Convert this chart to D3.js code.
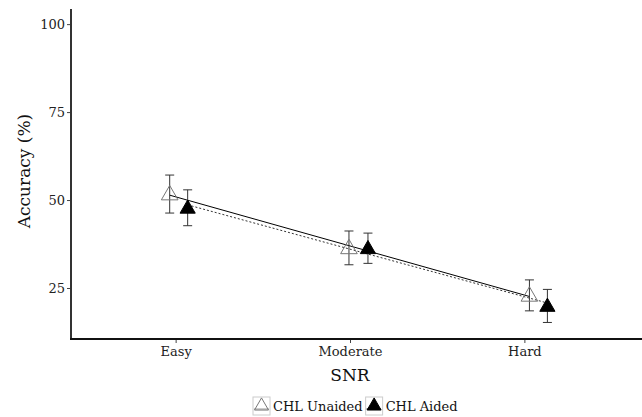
<!DOCTYPE html>
<html>
<head>
<meta charset="utf-8">
<script src="https://cdn.jsdelivr.net/npm/d3@7"></script>
<style>
  body { margin: 0; background: #fff; }
  text { font-family: "DejaVu Serif", "Liberation Serif", serif; }
</style>
</head>
<body>
<div id="chart"></div>
<script>
var categories = ["Easy", "Moderate", "Hard"];
var yTicks = [25, 50, 75, 100];

var seriesNames = ["CHL Unaided", "CHL Aided"];
var unaidedMean = [51.7, 36.4, 22.9];
var unaidedErr  = [5.4, 4.8, 4.4];
var aidedMean   = [47.8, 36.3, 19.9];
var aidedErr    = [5.1, 4.3, 4.7];
// horizontal jitter of each point, in category steps
var unaidedJitter = [-0.034, -0.006, 0.029];
var aidedJitter   = [0.069, 0.103, 0.132];

var width = 642, height = 417;

var svg = d3.select("#chart").append("svg")
    .attr("width", width)
    .attr("height", height);

var x = d3.scalePoint()
    .domain(categories)
    .range([71, 629])
    .padding(0.6);
var step = x.step();

var y = d3.scaleLinear()
    .domain([10.5, 104.3])
    .range([339, 9]);

var series = [
  {name: seriesNames[0], mean: unaidedMean, err: unaidedErr, jit: unaidedJitter, fill: "none", stroke: "#777", dash: null, lineColor: "#000"},
  {name: seriesNames[1], mean: aidedMean, err: aidedErr, jit: aidedJitter, fill: "#000", stroke: "#000", dash: "2,2", lineColor: "#333"}
];

series.forEach(function(s) {
  s.points = categories.map(function(c, i) {
    return {cat: c, i: i, px: x(c) + s.jit[i] * step, v: s.mean[i], e: s.err[i]};
  });
  // linear fit of value on position
  var mx = d3.mean(s.points, function(d) { return d.px; }),
      my = d3.mean(s.points, function(d) { return d.v; }),
      sxy = d3.sum(s.points, function(d) { return (d.px - mx) * (d.v - my); }),
      sxx = d3.sum(s.points, function(d) { return (d.px - mx) * (d.px - mx); });
  s.slope = sxy / sxx;
  s.icpt = my - s.slope * mx;
});

// axes
var yAxis = d3.axisLeft(y).tickValues(yTicks).tickSize(4).tickSizeOuter(0);
var gy = svg.append("g").attr("transform", "translate(71,0)").call(yAxis);
gy.select(".domain").remove();
gy.selectAll(".tick line").attr("stroke", "#444");
gy.selectAll(".tick text").attr("font-size", 13).attr("fill", "#222").attr("x", -6);

var xAxis = d3.axisBottom(x).tickSize(4).tickSizeOuter(0);
var gx = svg.append("g").attr("transform", "translate(0,339)").call(xAxis);
gx.select(".domain").remove();
gx.selectAll(".tick line").attr("stroke", "#444");
gx.selectAll(".tick text").attr("font-size", 13).attr("fill", "#222").attr("y", 8);

svg.append("line")
    .attr("x1", 71).attr("x2", 71).attr("y1", 9).attr("y2", 340)
    .attr("stroke", "#333").attr("stroke-width", 2);
svg.append("line")
    .attr("x1", 70).attr("x2", width).attr("y1", 339).attr("y2", 339)
    .attr("stroke", "#111").attr("stroke-width", 2);

// titles
svg.append("text")
    .attr("transform", "translate(30," + 171 + ") rotate(-90)")
    .attr("text-anchor", "middle")
    .attr("font-size", 17)
    .attr("fill", "#111")
    .text("Accuracy (%)");
svg.append("text")
    .attr("x", x("Moderate")).attr("y", 381)
    .attr("text-anchor", "middle")
    .attr("font-size", 17)
    .attr("fill", "#111")
    .text("SNR");

var tri = d3.symbol().type(d3.symbolTriangle);

// fitted lines
series.forEach(function(s) {
  var x0 = d3.min(s.points, function(d) { return d.px; }),
      x1 = d3.max(s.points, function(d) { return d.px; });
  svg.append("line")
      .attr("x1", x0).attr("y1", y(s.icpt + s.slope * x0))
      .attr("x2", x1).attr("y2", y(s.icpt + s.slope * x1))
      .attr("stroke", s.lineColor)
      .attr("stroke-width", 1)
      .attr("stroke-dasharray", s.dash);
});

// error bars and points
series.forEach(function(s) {
  var g = svg.append("g");
  var eb = g.selectAll(".eb").data(s.points).enter().append("g");
  eb.append("line")
      .attr("x1", function(d) { return d.px; }).attr("x2", function(d) { return d.px; })
      .attr("y1", function(d) { return y(d.v + d.e); }).attr("y2", function(d) { return y(d.v - d.e); })
      .attr("stroke", "#333").attr("stroke-width", 1);
  [1, -1].forEach(function(sg) {
    eb.append("line")
        .attr("x1", function(d) { return d.px - 4.5; }).attr("x2", function(d) { return d.px + 4.5; })
        .attr("y1", function(d) { return y(d.v + sg * d.e); }).attr("y2", function(d) { return y(d.v + sg * d.e); })
        .attr("stroke", "#333").attr("stroke-width", 1);
  });
  g.selectAll(".pt").data(s.points).enter().append("path")
      .attr("d", tri.size(s.fill === "none" ? 120 : 100))
      .attr("transform", function(d) { return "translate(" + d.px + "," + (y(d.v) + 1) + ")"; })
      .attr("fill", s.fill)
      .attr("stroke", s.stroke)
      .attr("stroke-width", 1);
});

// legend
var legend = svg.append("g").attr("transform", "translate(253,397)");
var lx = 0;
series.forEach(function(s) {
  var k = legend.append("g").attr("transform", "translate(" + lx + ",0)");
  k.append("rect").attr("width", 17).attr("height", 18)
      .attr("fill", "#fff").attr("stroke", "#ccc").attr("stroke-width", 1);
  k.append("line").attr("x1", 1).attr("x2", 16).attr("y1", 12).attr("y2", 12)
      .attr("stroke", s.fill === "none" ? "#999" : "#000")
      .attr("stroke-dasharray", s.dash);
  k.append("path")
      .attr("d", tri.size(85)())
      .attr("transform", "translate(8.5,9)")
      .attr("fill", s.fill)
      .attr("stroke", s.stroke);
  var t = k.append("text")
      .attr("x", 20).attr("y", 14)
      .attr("font-size", 13)
      .attr("fill", "#111")
      .text(s.name);
  lx += 20 + t.node().getComputedTextLength() + 3;
});
</script>
</body>
</html>
